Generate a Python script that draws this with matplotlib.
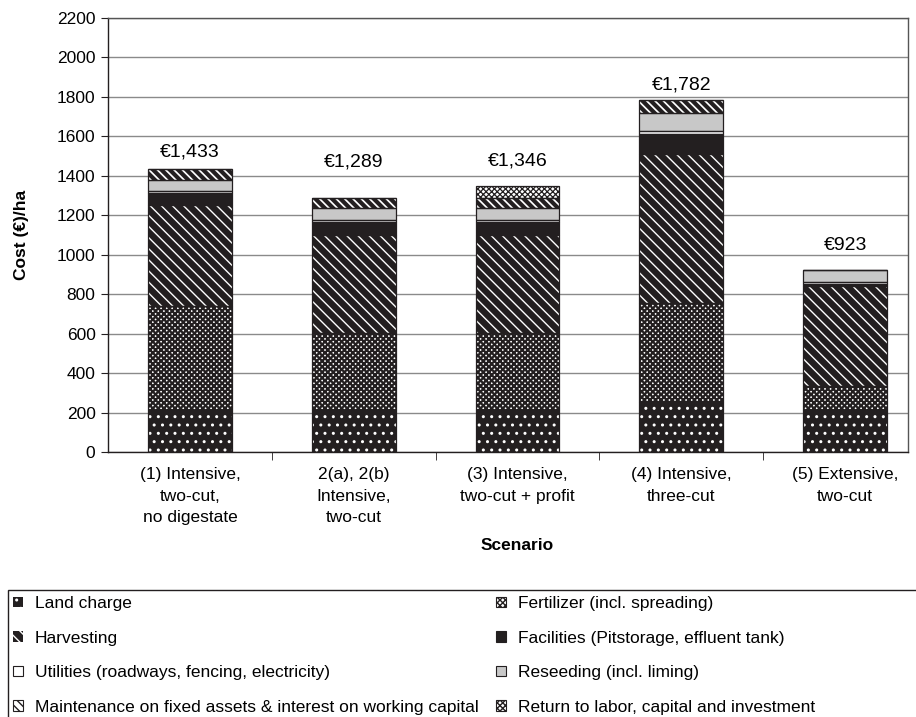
import matplotlib
matplotlib.use("Agg")
import matplotlib.pyplot as plt
import numpy as np
from matplotlib.patches import Patch, Rectangle

plt.rcParams['font.family'] = ['Liberation Sans', 'DejaVu Sans']
plt.rcParams['font.size'] = 12.5
plt.rcParams['hatch.linewidth'] = 1.0

# ---------------- data ----------------
scenarios = ["(1) Intensive,\ntwo-cut,\nno digestate",
             "2(a), 2(b)\nIntensive,\ntwo-cut",
             "(3) Intensive,\ntwo-cut + profit",
             "(4) Intensive,\nthree-cut",
             "(5) Extensive,\ntwo-cut"]
land_charge = [215, 215, 215, 255, 215]
fertilizer = [525, 390, 390, 500, 120]
harvesting = [510, 495, 495, 755, 505]
facilities = [65, 65, 65, 100, 10]
utilities = [10, 10, 10, 15, 10]
reseeding = [55, 60, 60, 95, 63]
maintenance = [53, 54, 54, 62, 0]
return_labor = [0, 0, 57, 0, 0]
totals = ["€1,433", "€1,289", "€1,346", "€1,782", "€923"]
yticks = list(range(0, 2201, 200))

# ---------------- styles ----------------
DARK = '#231f20'
series = [
    ("Land charge", land_charge, dict(face=DARK, hatch='..', hcol='white', hlw=1.0)),
    ("Fertilizer (incl. spreading)", fertilizer, dict(face='white', hatch='xxxxxx', hcol=DARK, hlw=1.6)),
    ("Harvesting", harvesting, dict(face=DARK, hatch='\\\\\\', hcol='white', hlw=1.0)),
    ("Facilities (Pitstorage, effluent tank)", facilities, dict(face=DARK, hatch=None, hcol=DARK)),
    ("Utilities (roadways, fencing, electricity)", utilities, dict(face='white', hatch=None, hcol=DARK)),
    ("Reseeding (incl. liming)", reseeding, dict(face='#c8c8c8', hatch=None, hcol=DARK)),
    ("Maintenance on fixed assets & interest on working capital", maintenance,
     dict(face='white', hatch='\\\\\\\\', hcol=DARK, hlw=3.0)),
    ("Return to labor, capital and investment", return_labor,
     dict(face='white', hatch='xxxxxx', hcol=DARK, hlw=0.9)),
]
label_offsets_px = [13, 31, 21, 10.5, 19.7]

W, H = 916, 717
fig = plt.figure(figsize=(W / 100, H / 100), dpi=100)
ax = fig.add_axes([108 / W, 1 - 452 / H, 800 / W, 434 / H])

x = np.arange(len(scenarios))
width = 84 / 164
bottom = np.zeros(len(scenarios))
handles = {}


def set_hlw(p, lw):
    if lw is not None and hasattr(p, 'set_hatch_linewidth'):
        p.set_hatch_linewidth(lw)


for name, vals, st in series:
    vals = np.array(vals, dtype=float)
    bars = ax.bar(x, vals, width, bottom=bottom, color=st['face'],
                  edgecolor=st['hcol'], linewidth=0, hatch=st['hatch'], zorder=3)
    for b in bars:
        set_hlw(b, st.get('hlw'))
    ax.bar(x, vals, width, bottom=bottom, fill=False, edgecolor=DARK,
           linewidth=0.9, zorder=4)
    if st['hcol'] == 'white':
        hp = Patch(facecolor=st['face'], edgecolor='white', linewidth=0, hatch=st['hatch'])
    else:
        hp = Patch(facecolor=st['face'], edgecolor=DARK, linewidth=0.8, hatch=st['hatch'])
    set_hlw(hp, st.get('hlw'))
    handles[name] = hp
    bottom += vals

for i, (tot, off) in enumerate(zip(totals, label_offsets_px)):
    ax.annotate(tot, (x[i], bottom[i]), xytext=(0, off * 0.72), textcoords='offset points',
                ha='center', va='baseline', fontsize=14)

ax.set_ylim(0, 2200)
ax.set_xlim(-0.5, 4.384)
ax.set_yticks(yticks)
ax.set_yticklabels([str(v) for v in yticks])
ax.yaxis.grid(True, color='#8a8a8a', linewidth=1.0, zorder=0)
ax.set_axisbelow(True)
ax.set_xticks(x)
ax.set_xticklabels(scenarios, linespacing=1.55)
ax.set_xticks(np.arange(len(scenarios) - 1) + 0.5, minor=True)
ax.tick_params(axis='x', which='major', length=0, pad=11)
ax.tick_params(axis='x', which='minor', length=6, direction='out', color=DARK)
ax.tick_params(axis='y', length=5, direction='out', color=DARK, pad=4)
for s in ax.spines.values():
    s.set_color('#555555')
    s.set_linewidth(1.0)
ax.spines['left'].set_color(DARK)
ax.spines['bottom'].set_color(DARK)

ax.set_ylabel("Cost (€)/ha", fontweight='bold', labelpad=20)
fig.text(517 / W, 1 - 545 / H, "Scenario", ha='center', va='center', fontweight='bold')

order = ["Land charge", "Harvesting", "Utilities (roadways, fencing, electricity)",
         "Maintenance on fixed assets & interest on working capital",
         "Fertilizer (incl. spreading)", "Facilities (Pitstorage, effluent tank)",
         "Reseeding (incl. liming)", "Return to labor, capital and investment"]
leg = fig.legend([handles[n] for n in order], order, ncol=2, loc='upper left',
                 bbox_to_anchor=(8 / W, 1 - 591 / H), borderaxespad=0,
                 frameon=False,
                 handlelength=0.55, handleheight=0.55, handletextpad=0.7,
                 columnspacing=1.0, labelspacing=1.12, borderpad=0.3, fontsize=12.5)
# legend frame running off the right and bottom edges
fig.patches.append(Rectangle((8 / W, -0.02), (W + 20 - 8) / W, (717 - 590) / H + 0.02,
                             transform=fig.transFigure, fill=False, edgecolor=DARK,
                             linewidth=1.0))

fig.savefig("out.png", dpi=100)
